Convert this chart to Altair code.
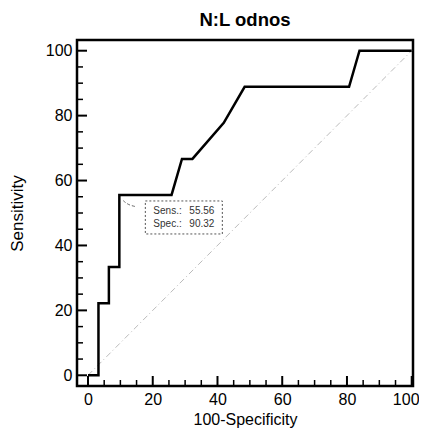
import altair as alt
import pandas as pd

# ROC curve points (100-Specificity, Sensitivity)
fpr = [0, 3.23, 3.23, 6.45, 6.45, 9.68, 9.68, 25.81, 29.03, 32.26, 41.94, 48.39, 80.65, 83.87, 100]
sens = [0, 0, 22.22, 22.22, 33.33, 33.33, 55.56, 55.56, 66.67, 66.67, 77.78, 88.89, 88.89, 100, 100]

# reference diagonal
diag_x = [0, 100]
diag_y = [0, 100]

# criterion point and its annotation
crit_x = [9.68]
crit_y = [55.56]
crit_names = ["Sens.:", "Spec.:"]
crit_values = ["55.56", "90.32"]
leader_x = [10.9, 12.4, 15.0]
leader_y = [53.8, 52.5, 51.9]

tick_labels = [0, 20, 40, 60, 80, 100]
minor_ticks = list(range(0, 101, 5))

W, H = 336, 346
FONT = "Liberation Sans"

xs = alt.Scale(domain=[-3.4, 100.4], nice=False, zero=False)
ys = alt.Scale(domain=[-3.3, 103.3], nice=False, zero=False)

roc_df = pd.DataFrame({"x": fpr, "y": sens, "i": range(len(fpr))})
diag_df = pd.DataFrame({"x": diag_x, "y": diag_y})
crit_df = pd.DataFrame({"x": crit_x, "y": crit_y})
crit_df["n1"] = crit_names[0]
crit_df["n2"] = crit_names[1]
crit_df["v1"] = crit_values[0]
crit_df["v2"] = crit_values[1]
leader_df = pd.DataFrame({"x": leader_x, "y": leader_y, "i": range(len(leader_x))})
ticks_df = pd.DataFrame({"v": minor_ticks})
ticks_df["major"] = ticks_df["v"] % 20 == 0
major_df = ticks_df[ticks_df["major"]]
minor_df = ticks_df[~ticks_df["major"]]

xaxis = alt.Axis(values=tick_labels, ticks=False, tickSize=0, domain=False, grid=False,
                 labelFontSize=16, labelFont=FONT, labelColor="black", labelPadding=5,
                 labelOffset={"condition": {"test": "datum.value == 100", "value": -6}, "value": 0},
                 title="100-Specificity", titleFontSize=16, titleFont=FONT,
                 titleFontWeight="normal", titleColor="black", titlePadding=4)
yaxis = alt.Axis(values=tick_labels, ticks=False, tickSize=0, domain=False, grid=False,
                 labelFontSize=16, labelFont=FONT, labelColor="black", labelPadding=5,
                 title="Sensitivity", titleFontSize=17, titleFont=FONT,
                 titleFontWeight="normal", titleColor="black", titlePadding=19)

base_roc = alt.Chart(roc_df).mark_line(color="black", strokeWidth=2.5).encode(
    x=alt.X("x:Q", scale=xs, axis=xaxis),
    y=alt.Y("y:Q", scale=ys, axis=yaxis),
    order="i:O",
)

diag = alt.Chart(diag_df).mark_line(color="#bbbbbb", strokeWidth=1, strokeDash=[6, 3, 1, 3]).encode(
    x=alt.X("x:Q", scale=xs), y=alt.Y("y:Q", scale=ys)
)

xt_major = alt.Chart(major_df).mark_rule(color="black", strokeWidth=2).encode(
    x=alt.X("v:Q", scale=xs), y=alt.value(H), y2=alt.value(H - 10))
xt_minor = alt.Chart(minor_df).mark_rule(color="black", strokeWidth=1.5).encode(
    x=alt.X("v:Q", scale=xs), y=alt.value(H), y2=alt.value(H - 6))
yt_major = alt.Chart(major_df).mark_rule(color="black", strokeWidth=2).encode(
    y=alt.Y("v:Q", scale=ys), x=alt.value(0), x2=alt.value(10))
yt_minor = alt.Chart(minor_df).mark_rule(color="black", strokeWidth=1.5).encode(
    y=alt.Y("v:Q", scale=ys), x=alt.value(0), x2=alt.value(6))

box = alt.Chart(crit_df).mark_rect(
    fill="white", stroke="#555555", strokeWidth=1, strokeDash=[2, 2],
    xOffset=26, x2Offset=103, yOffset=6, y2Offset=39,
).encode(x=alt.X("x:Q", scale=xs), x2="x", y=alt.Y("y:Q", scale=ys), y2="y")

def txt(field, dx, dy):
    return alt.Chart(crit_df).mark_text(
        align="left", baseline="middle", dx=dx, dy=dy, fontSize=10, font=FONT,
        color="#333333"
    ).encode(x=alt.X("x:Q", scale=xs), y=alt.Y("y:Q", scale=ys), text=f"{field}:N")

t_n1 = txt("n1", 34, 16)
t_n2 = txt("n2", 34, 29)
t_v1 = txt("v1", 70, 16)
t_v2 = txt("v2", 70, 29)

leader = alt.Chart(leader_df).mark_line(color="#666666", strokeWidth=1, strokeDash=[3, 2],
                                        interpolate="basis").encode(
    x=alt.X("x:Q", scale=xs), y=alt.Y("y:Q", scale=ys), order="i:O")

chart = alt.layer(
    diag, xt_major, xt_minor, yt_major, yt_minor, leader, box,
    t_n1, t_n2, t_v1, t_v2, base_roc
).properties(
    width=W, height=H,
    autosize=alt.AutoSizeParams(type="none"),
    padding={"left": 69, "top": 32, "right": 6, "bottom": 42},
    background="white",
    title=alt.Title("N:L odnos", fontSize=18.5, font=FONT, fontWeight="bold",
                    color="black", offset=11),
).configure_view(stroke="black", strokeWidth=2.5)

chart.save("out.html", embed_options={"renderer": "svg", "actions": False})
